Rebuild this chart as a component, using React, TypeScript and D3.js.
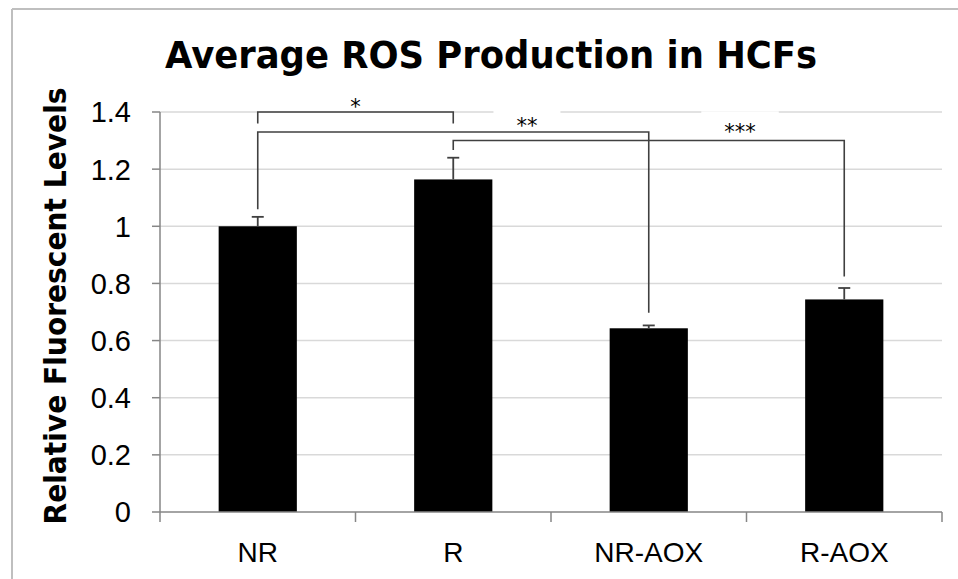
import React from "react";
import * as d3 from "d3";

const categories = ["NR", "R", "NR-AOX", "R-AOX"];
const means = [1.0, 1.164, 0.643, 0.744];
const errors = [0.033, 0.076, 0.01, 0.04];
const yTicks = [0, 0.2, 0.4, 0.6, 0.8, 1, 1.2, 1.4];
const yTickLabels = ["0", "0.2", "0.4", "0.6", "0.8", "1", "1.2", "1.4"];

// significance brackets: category indexes, bar level, leg ends (data units)
const bracketFrom = [0, 0, 1];
const bracketTo = [1, 2, 3];
const bracketLevel = [1.4, 1.33, 1.3];
const bracketLeftEnd = [1.36, 1.06, 1.267];
const bracketRightEnd = [1.36, 0.697, 0.824];
const bracketLabels = ["*", "**", "***"];
const labelIndexPos = [0.5, 1.377, 2.467];
const labelLevel = [1.432, 1.365, 1.343];
const labelBoxed = [false, true, true];

const title = "Average ROS Production in HCFs";
const yTitle = "Relative Fluorescent Levels";

const W = 958;
const H = 579;
const M = { left: 160, right: 942, top: 112, bottom: 512 };

export default function App() {
  const x = d3.scaleBand<string>().domain(categories).range([M.left, M.right]).paddingInner(0.6).paddingOuter(0.3);
  const y = d3.scaleLinear().domain([0, 1.4]).range([M.bottom, M.top]);
  const band = d3.scaleBand<string>().domain(categories).range([M.left, M.right]);
  const cx = (i: number) => (band(categories[i]) as number) + band.bandwidth() / 2;
  const idx = d3.scaleLinear().domain([0, 1]).range([cx(0), cx(1)]);
  const lineColor = "#404040";
  const axisColor = "#868686";
  const asteriskSize = 21;

  return (
    <svg width={W} height={H} style={{ position: "absolute", left: 0, top: 0, background: "#fff" }}>
      <rect x={0} y={0} width={W} height={H} fill="#fff" />
      {/* chart area border */}
      <line x1={12} x2={W} y1={9} y2={9} stroke="#bfbfbf" strokeWidth={2} />
      <line x1={12} x2={12} y1={9} y2={H} stroke="#bfbfbf" strokeWidth={2} />

      {/* gridlines */}
      {yTicks.filter((t) => t > 0).map((t) => (
        <line key={t} x1={M.left} x2={M.right} y1={y(t)} y2={y(t)} stroke="#d9d9d9" strokeWidth={1.5} />
      ))}

      {/* label boxes */}
      {bracketLabels.map((lab, i) =>
        labelBoxed[i] ? (
          <rect
            key={"box" + i}
            x={idx(labelIndexPos[i]) - (lab.length * asteriskSize * 0.5) / 2 - 23}
            y={y(labelLevel[i]) - 17}
            width={lab.length * asteriskSize * 0.5 + 46}
            height={26}
            fill="#fff"
          />
        ) : null
      )}

      {/* bars */}
      {categories.map((c, i) => (
        <rect key={c} x={x(c)} y={y(means[i])} width={x.bandwidth()} height={y(0) - y(means[i])} fill="#000" />
      ))}

      {/* error bars */}
      {categories.map((c, i) => (
        <g key={"e" + c} stroke={lineColor} strokeWidth={1.8}>
          <line x1={cx(i)} x2={cx(i)} y1={y(means[i])} y2={y(means[i] + errors[i])} />
          <line x1={cx(i) - 6} x2={cx(i) + 6} y1={y(means[i] + errors[i])} y2={y(means[i] + errors[i])} />
        </g>
      ))}

      {/* axes */}
      <line x1={M.left} x2={M.left} y1={M.top} y2={M.bottom} stroke={axisColor} strokeWidth={1.5} />
      <line x1={M.left} x2={M.right} y1={M.bottom} y2={M.bottom} stroke={axisColor} strokeWidth={1.5} />
      {yTicks.map((t) => (
        <line key={"yt" + t} x1={M.left - 8} x2={M.left} y1={y(t)} y2={y(t)} stroke={axisColor} strokeWidth={1.5} />
      ))}
      {d3.range(categories.length + 1).map((k) => {
        const xx = k < categories.length ? (band(categories[k]) as number) : M.right;
        return <line key={"xt" + k} x1={xx} x2={xx} y1={M.bottom} y2={M.bottom + 10} stroke={axisColor} strokeWidth={1.5} />;
      })}

      {/* y tick labels */}
      {yTicks.map((t, i) => (
        <text
          key={"yl" + t}
          x={131}
          y={y(t)}
          dy="0.36em"
          textAnchor="end"
          fontFamily="Liberation Sans, Arial, sans-serif"
          fontSize={29}
          fill="#000"
        >
          {yTickLabels[i]}
        </text>
      ))}

      {/* x labels */}
      {categories.map((c, i) => (
        <text
          key={"xl" + c}
          x={cx(i)}
          y={561.5}
          textAnchor="middle"
          fontFamily="Liberation Sans, Arial, sans-serif"
          fontSize={28}
          fill="#000"
        >
          {c}
        </text>
      ))}

      {/* brackets */}
      {bracketLabels.map((lab, i) => {
        const x1 = cx(bracketFrom[i]);
        const x2 = cx(bracketTo[i]);
        const d = `M${x1},${y(bracketLeftEnd[i])}L${x1},${y(bracketLevel[i])}L${x2},${y(bracketLevel[i])}L${x2},${y(bracketRightEnd[i])}`;
        return <path key={"br" + i} d={d} fill="none" stroke={lineColor} strokeWidth={1.6} />;
      })}
      {bracketLabels.map((lab, i) => (
        <text
          key={"bl" + i}
          x={idx(labelIndexPos[i])}
          y={y(labelLevel[i]) + 11}
          textAnchor="middle"
          fontFamily="DejaVu Sans, sans-serif"
          fontSize={asteriskSize}
          fill="#000"
        >
          {lab}
        </text>
      ))}

      {/* title */}
      <text
        x={491}
        y={68}
        textAnchor="middle"
        fontFamily="DejaVu Sans, sans-serif"
        fontWeight="bold"
        fontSize={37}
        textLength={652}
        lengthAdjust="spacingAndGlyphs"
        fill="#000"
      >
        {title}
      </text>

      {/* y title */}
      <text
        transform={`translate(66,306) rotate(-90)`}
        textAnchor="middle"
        fontFamily="DejaVu Sans, sans-serif"
        fontWeight="bold"
        fontSize={31}
        textLength={437}
        lengthAdjust="spacingAndGlyphs"
        fill="#000"
      >
        {yTitle}
      </text>
    </svg>
  );
}
